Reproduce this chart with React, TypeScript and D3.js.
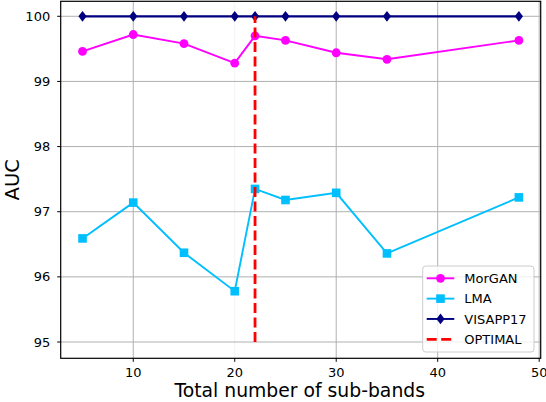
import React, { useEffect, useRef } from 'react';
import * as d3 from 'd3';

// sub-band counts on the x axis
const bands = [5, 10, 15, 20, 22, 25, 30, 35, 48];

// AUC values
const morgan = [99.46, 99.72, 99.58, 99.28, 99.70, 99.63, 99.44, 99.34, 99.63];
const lma = [96.59, 97.14, 96.37, 95.78, 97.35, 97.18, 97.29, 96.36, 97.22];
const visapp = [100, 100, 100, 100, 100, 100, 100, 100, 100];

const optimalX = 22;
const optimalRange = [95, 100];

const xTicks = [10, 20, 30, 40, 50];
const yTicks = [95, 96, 97, 98, 99, 100];

const legendLabels = ['MorGAN', 'LMA', 'VISAPP17', 'OPTIMAL'];

const font = 'DejaVu Sans, sans-serif';

const App: React.FC = () => {
  const svgRef = useRef<SVGSVGElement | null>(null);

  useEffect(() => {
    if (!svgRef.current) return;

    const width = 546;
    const height = 402;
    const left = 60.7;
    const right = 540.7;
    const top = 1.3;
    const bottom = 358.3;

    const svg = d3.select(svgRef.current)
      .attr('width', width)
      .attr('height', height);

    svg.selectAll('*').remove();

    const x = d3.scaleLinear().domain([2.85, 50.15]).range([left, right]);
    const y = d3.scaleLinear().domain([94.75, 100.23]).range([bottom, top]);

    // grid
    const grid = svg.append('g');
    xTicks.forEach(t => {
      grid.append('line')
        .attr('x1', x(t)).attr('x2', x(t))
        .attr('y1', top).attr('y2', bottom)
        .attr('stroke', t === 20 ? '#f3f3f3' : '#b0b0b0')
        .attr('stroke-width', 1);
    });
    yTicks.forEach(t => {
      grid.append('line')
        .attr('x1', left).attr('x2', right)
        .attr('y1', y(t)).attr('y2', y(t))
        .attr('stroke', '#b0b0b0')
        .attr('stroke-width', 1);
    });

    const line = d3.line<[number, number]>()
      .x(d => x(d[0]))
      .y(d => y(d[1]));

    const series = [
      { values: morgan, color: '#ff00ff', width: 1.9, marker: 'circle' },
      { values: lma, color: '#00bfff', width: 1.9, marker: 'square' },
      { values: visapp, color: '#000080', width: 2.2, marker: 'diamond' },
    ];

    const drawMarker = (g: d3.Selection<SVGGElement, unknown, null, undefined>, kind: string, cx: number, cy: number, color: string) => {
      if (kind === 'circle') {
        g.append('circle').attr('cx', cx).attr('cy', cy).attr('r', 4.4).attr('fill', color);
      } else if (kind === 'square') {
        g.append('rect').attr('x', cx - 4.3).attr('y', cy - 4.3)
          .attr('width', 8.6).attr('height', 8.6).attr('fill', color);
      } else {
        g.append('path')
          .attr('d', `M${cx},${cy - 5.4}L${cx + 4.1},${cy}L${cx},${cy + 5.4}L${cx - 4.1},${cy}Z`)
          .attr('fill', color);
      }
    };

    const plot = svg.append('g');
    series.forEach(s => {
      const pts = bands.map((b, i) => [b, s.values[i]] as [number, number]);
      plot.append('path')
        .attr('d', line(pts))
        .attr('fill', 'none')
        .attr('stroke', s.color)
        .attr('stroke-width', s.width);
      const mg = plot.append('g');
      pts.forEach(p => drawMarker(mg, s.marker, x(p[0]), y(p[1]), s.color));
    });

    // optimal marker line
    plot.append('line')
      .attr('x1', x(optimalX)).attr('x2', x(optimalX))
      .attr('y1', y(optimalRange[0])).attr('y2', y(optimalRange[1]))
      .attr('stroke', '#ff0000')
      .attr('stroke-width', 2.8)
      .attr('stroke-dasharray', '10,4.5');

    // spines
    svg.append('rect')
      .attr('x', left).attr('y', top)
      .attr('width', right - left).attr('height', bottom - top)
      .attr('fill', 'none').attr('stroke', '#000').attr('stroke-width', 1.2);

    // x axis ticks
    const xa = svg.append('g');
    xTicks.forEach(t => {
      xa.append('line')
        .attr('x1', x(t)).attr('x2', x(t))
        .attr('y1', bottom).attr('y2', bottom + 3.5)
        .attr('stroke', '#000');
      xa.append('text')
        .attr('x', x(t)).attr('y', 376.8)
        .attr('text-anchor', 'middle')
        .attr('font-family', font).attr('font-size', 13)
        .attr('fill', '#000')
        .text(t);
    });

    // y axis ticks
    const ya = svg.append('g');
    yTicks.forEach(t => {
      ya.append('line')
        .attr('x1', left - 3.5).attr('x2', left)
        .attr('y1', y(t)).attr('y2', y(t))
        .attr('stroke', '#000');
      ya.append('text')
        .attr('x', left - 10.5).attr('y', y(t) + 4.6)
        .attr('text-anchor', 'end')
        .attr('font-family', font).attr('font-size', 13)
        .attr('fill', '#000')
        .text(t);
    });

    svg.append('text')
      .attr('x', (left + right) / 2 - 1).attr('y', 397.4)
      .attr('text-anchor', 'middle')
      .attr('font-family', font).attr('font-size', 18.8)
      .text('Total number of sub-bands');

    svg.append('text')
      .attr('transform', `translate(18.5,${(top + bottom) / 2}) rotate(-90)`)
      .attr('text-anchor', 'middle')
      .attr('font-family', font).attr('font-size', 19.5)
      .text('AUC');

    // legend
    const lg = svg.append('g');
    lg.append('rect')
      .attr('x', 422.7).attr('y', 266)
      .attr('width', 111.3).attr('height', 86)
      .attr('rx', 3)
      .attr('fill', 'rgba(255,255,255,0.8)')
      .attr('stroke', '#cccccc');
    const entries = [
      { color: '#ff00ff', marker: 'circle', dashed: false },
      { color: '#00bfff', marker: 'square', dashed: false },
      { color: '#000080', marker: 'diamond', dashed: false },
      { color: '#ff0000', marker: '', dashed: true },
    ];
    const rowY = d3.scaleLinear().domain([0, 3]).range([278.3, 339.3]);
    entries.forEach((e, i) => {
      const yy = rowY(i);
      lg.append('line')
        .attr('x1', 426.7).attr('x2', 454.3)
        .attr('y1', yy).attr('y2', yy)
        .attr('stroke', e.color)
        .attr('stroke-width', e.dashed ? 2.8 : 1.9)
        .attr('stroke-dasharray', e.dashed ? '10,4.5' : null);
      if (e.marker) drawMarker(lg, e.marker, 440.5, yy, e.color);
      lg.append('text')
        .attr('x', 464.3).attr('y', yy + 4.6)
        .attr('font-family', font).attr('font-size', 13)
        .attr('fill', '#000')
        .text(legendLabels[i]);
    });
  }, []);

  return (
    <svg ref={svgRef} style={{ position: 'absolute', left: 0, top: 0 }}></svg>
  );
};

export default App;
